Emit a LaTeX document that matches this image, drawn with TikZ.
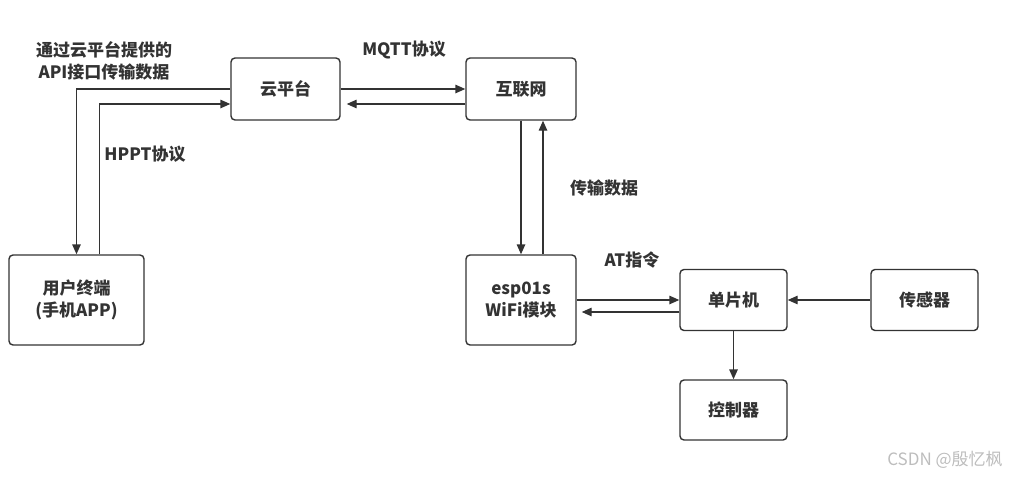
\documentclass[tikz,border=0pt]{standalone}
\usepackage{fontspec}
\setmainfont{Noto Sans CJK SC}
\usetikzlibrary{arrows.meta, positioning, calc}
\definecolor{linegray}{HTML}{333333}
\definecolor{markgray}{HTML}{BDBDBD}
\tikzset{
  block/.style={
    rectangle, rounded corners=4pt, line width=1.4pt, draw=linegray,
    fill=white, text=linegray, align=center,
    font=\fontsize{17}{22}\selectfont\bfseries
  },
  link/.style={
    -{Triangle[length=10pt, width=8.5pt]}, line width=1.4pt, draw=linegray
  },
  tag/.style={
    text=linegray, align=center, font=\fontsize{17}{22}\selectfont\bfseries
  }
}

\begin{document}
\begin{tikzpicture}[x=1pt, y=-1pt]

  \useasboundingbox (0,0) rectangle (1016,479);

  % Blocks
  \node[block, minimum width=109pt, minimum height=62pt] (cloud) at (285.5,89) {云平台};
  \node[block, minimum width=110pt, minimum height=62pt] (net) at (521,89) {互联网};
  \node[block, minimum width=135pt, minimum height=90pt] (user) at (76.5,300) {用户终端\\(手机APP)};
  \node[block, minimum width=110pt, minimum height=90pt] (esp) at (521,300) {esp01s\\WiFi模块};
  \node[block, minimum width=107pt, minimum height=61pt] (mcu) at (733.5,300) {单片机};
  \node[block, minimum width=107pt, minimum height=61pt] (sensor) at (924.5,300) {传感器};
  \node[block, minimum width=107pt, minimum height=60pt] (ctrl) at (733.5,410) {控制器};

  % Cloud <-> user
  \draw[link] (cloud.west) -| (user.north);
  \draw[link] ([xshift=23pt]user.north) |- ([yshift=-15pt]cloud.west);

  % Cloud <-> internet
  \draw[link] (cloud.east) -- (net.west);
  \draw[link, shorten >=6pt] ([yshift=-15pt]net.west) -- ([yshift=-15pt]cloud.east);

  % Internet <-> esp01s
  \draw[link] (net.south) -- (esp.north);
  \draw[link] ([xshift=22pt]esp.north) -- ([xshift=22pt]net.south);

  % esp01s <-> MCU
  \draw[link] (esp.east) -- (mcu.west);
  \draw[link, shorten >=5pt] ([yshift=-12pt]mcu.west) -- ([yshift=-12pt]esp.east);

  % Sensor and controller
  \draw[link] (sensor.west) -- (mcu.east);
  \draw[link] (mcu.south) -- (ctrl.north);

  % Labels
  \node[tag] (apitag) at (104,61) {通过云平台提供的\\API接口传输数据};
  \node[tag] (httptag) at (145,154) {HPPT协议};
  \node[tag] (mqtttag) at (404,50) {MQTT协议};
  \node[tag] (datatag) at (604,188) {传输数据};
  \node[tag] (attag) at (632,260) {AT指令};

  % Watermark
  \node[text=markgray, font=\fontsize{17}{20}\selectfont] (mark) at (945,460) {CSDN @殷忆枫};

\end{tikzpicture}
\end{document}
